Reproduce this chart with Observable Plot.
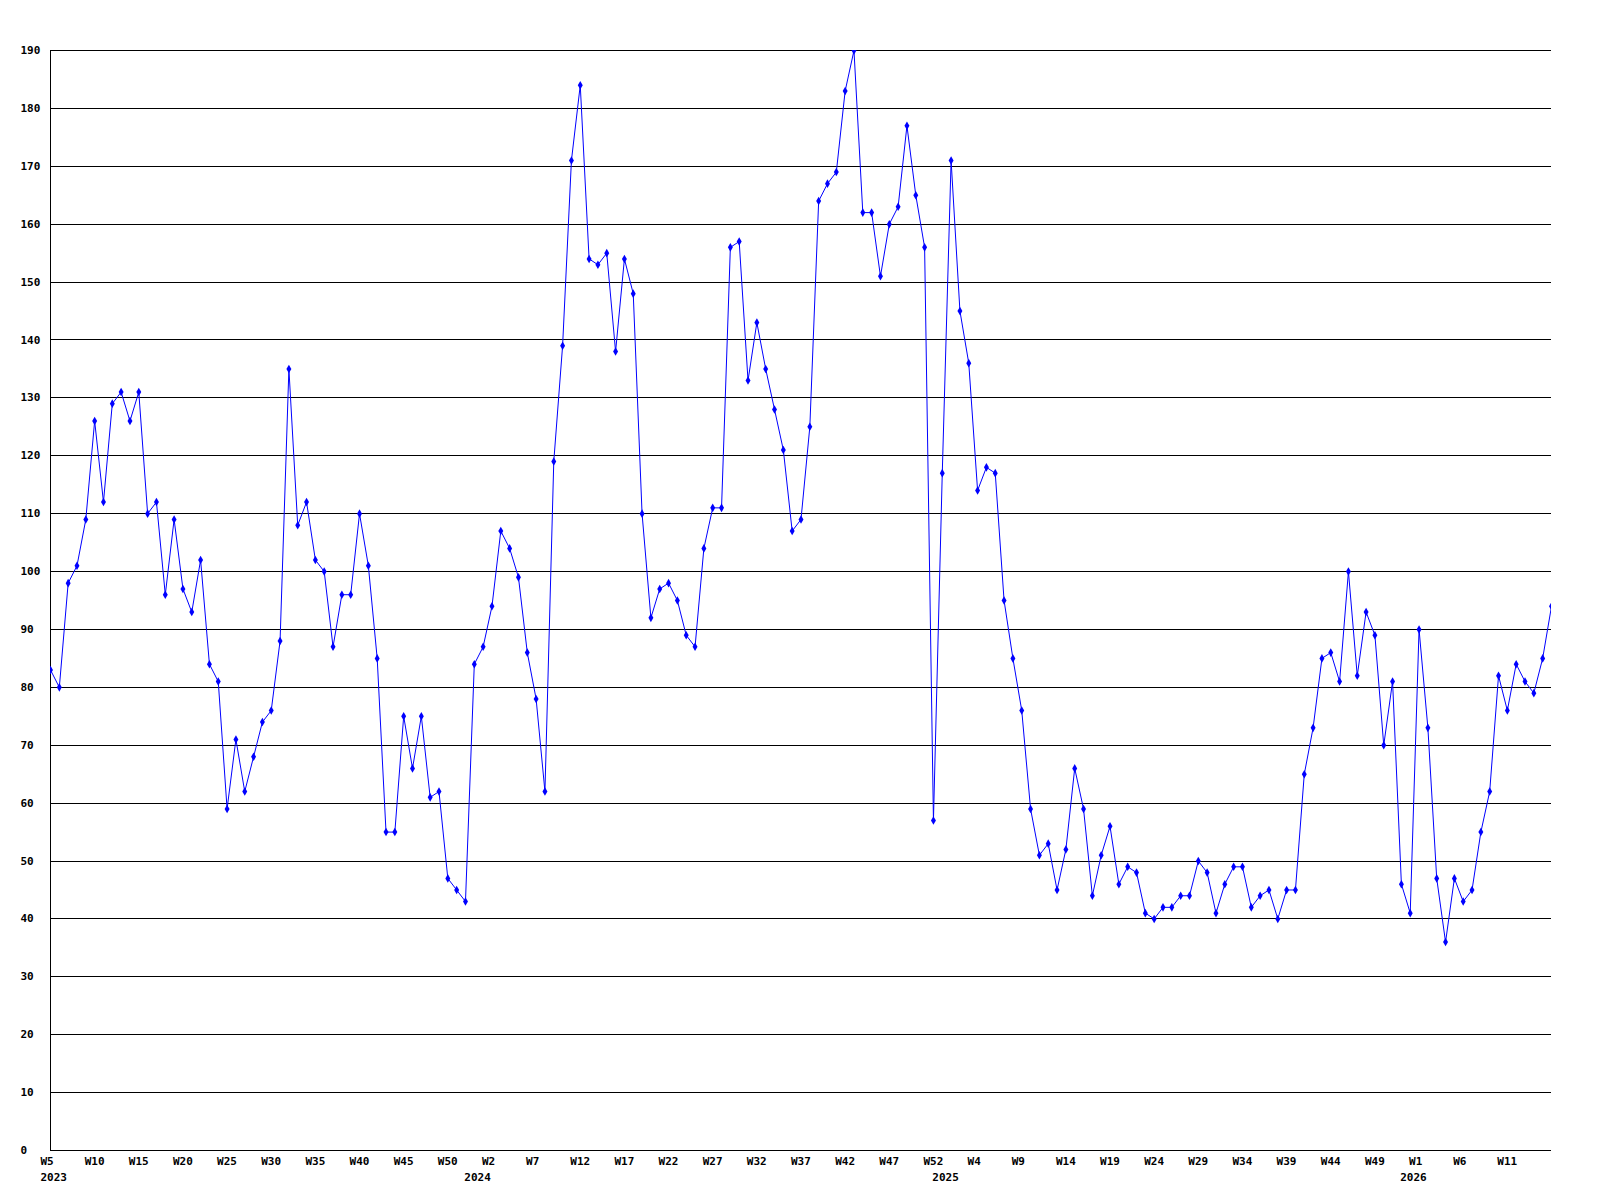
<!DOCTYPE html>
<html>
<head>
<meta charset="utf-8">
<script src="https://cdn.jsdelivr.net/npm/d3@7"></script>
<script src="https://cdn.jsdelivr.net/npm/@observablehq/plot@0.6"></script>
<style>
html, body { margin: 0; padding: 0; background: #ffffff; }
#chart svg { display: block; }
</style>
</head>
<body>
<div id="chart"></div>
<script>
// Weekly values, in order (first point = W5 2023, last = right edge)
const values2023 = [83,80,98,101,109,126,112,129,131,126,131,110,112,96,109,97,93,102,84,81,59,71,62,68,74,76,88,135,108,112,102,100,87,96,96,110,101,85,55,55,75,66,75,61,62,47,45,43];
const values2024 = [84,87,94,107,104,99,86,78,62,119,139,171,184,154,153,155,138,154,148,110,92,97,98,95,89,87,104,111,111,156,157,133,143,135,128,121,107,109,125,164,167,169,183,190,162,162,151,160,163,177,165,156];
const values2025 = [57,117,171,145,136,114,118,117,95,85,76,59,51,53,45,52,66,59,44,51,56,46,49,48,41,40,42,42,44,44,50,48,41,46,49,49,42,44,45,40,45,45,65,73,85,86,81,100,82,93,89,70];
const values2026 = [81,46,41,90,73,47,36,47,43,45,55,62,82,76,84,81,79,85,94];

// Axis labels
const weekTickLabels = ["W5","W10","W15","W20","W25","W30","W35","W40","W45","W50",
  "W2","W7","W12","W17","W22","W27","W32","W37","W42","W47","W52",
  "W4","W9","W14","W19","W24","W29","W34","W39","W44","W49",
  "W1","W6","W11"];
const weekTickEvery = 5;
const yearLabels = ["2023","2024","2025","2026"];
const yearStartIndex = [0, 48, 101, 154];
const yTicks = [0,10,20,30,40,50,60,70,80,90,100,110,120,130,140,150,160,170,180,190];

const values = [...values2023, ...values2024, ...values2025, ...values2026];
const data = values.map((v, i) => ({i, v}));
const weekTicks = weekTickLabels.map((label, k) => ({i: k * weekTickEvery, label}));
const years = yearLabels.map((label, k) => ({i: yearStartIndex[k], label}));

const chart = Plot.plot({
  width: 1600,
  height: 1200,
  marginLeft: 50,
  marginRight: 49,
  marginTop: 50,
  marginBottom: 50,
  style: {
    fontFamily: "'DejaVu Sans Mono', 'Liberation Mono', monospace",
    fontSize: "11px",
    fontWeight: "bold",
    background: "#ffffff",
    color: "#000000"
  },
  x: {domain: [0, values.length - 1], axis: null},
  y: {domain: [0, 190], axis: null},
  marks: [
    Plot.ruleY(yTicks, {stroke: "#000000", strokeWidth: 1, shapeRendering: "crispEdges"}),
    Plot.ruleX([0], {stroke: "#000000", strokeWidth: 1, shapeRendering: "crispEdges"}),
    Plot.text(yTicks, {y: d => d, text: d => String(d), frameAnchor: "left", dx: -30, textAnchor: "start", fill: "#000000"}),
    Plot.text(weekTicks, {x: "i", text: "label", frameAnchor: "bottom", dy: 14.5, dx: -10, textAnchor: "start", fill: "#000000"}),
    Plot.text(years, {x: "i", text: "label", frameAnchor: "bottom", dy: 30, dx: -10, textAnchor: "start", fill: "#000000"}),
    Plot.line(data, {x: "i", y: "v", stroke: "#0000ff", strokeWidth: 1, clip: true}),
    Plot.dot(data, {x: "i", y: "v", symbol: "diamond", r: 2.6, fill: "#0000ff", stroke: "none", clip: true})
  ]
});
document.getElementById("chart").appendChild(chart);
</script>
</body>
</html>
